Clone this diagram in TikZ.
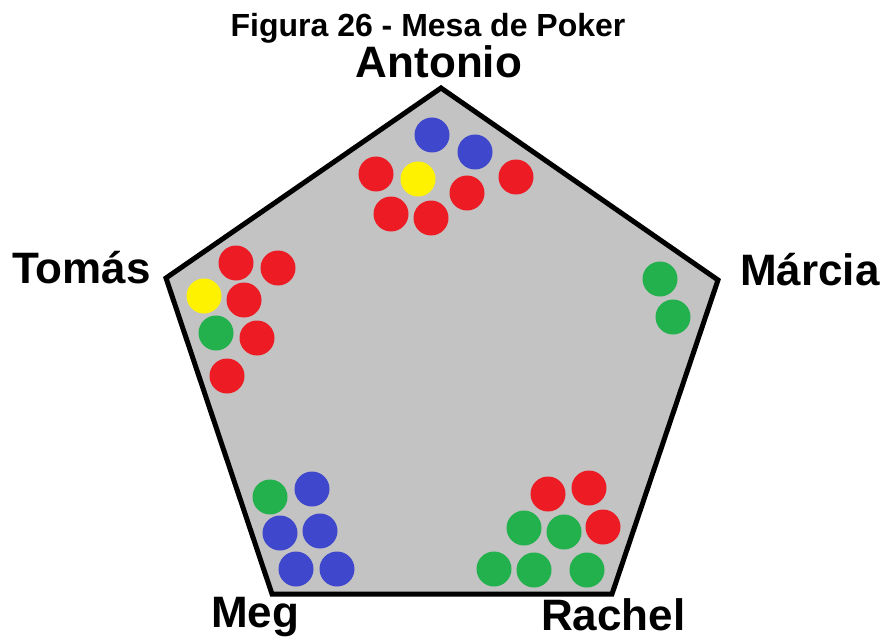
\documentclass[tikz,border=0pt]{standalone}
\usepackage{fontspec}
\setmainfont{Liberation Sans}
\definecolor{cred}{HTML}{ED1C24}
\definecolor{cblue}{HTML}{3F48CC}
\definecolor{cyellow}{HTML}{FFF200}
\definecolor{cgreen}{HTML}{22B14C}
\definecolor{table}{HTML}{C3C3C3}
\tikzset{
  chip/.style={circle, fill=#1, draw=none, minimum size=35pt, inner sep=0pt},
  player/.style={anchor=base, inner sep=0pt, font=\fontsize{44}{48}\selectfont\bfseries},
}
\begin{document}
\begin{tikzpicture}[x=1pt,y=-1pt]
\useasboundingbox (0,0) rectangle (885,639);
% table
\coordinate (vT) at (441,88);
\coordinate (vR) at (718,280);
\coordinate (vBR) at (612,594);
\coordinate (vBL) at (272,594);
\coordinate (vL) at (166,278);
\draw[line width=5pt, line join=miter, fill=table] (vT) -- (vR) -- (vBR) -- (vBL) -- (vL) -- cycle;
% title and names
\node[anchor=base, inner sep=0pt, font=\fontsize{32}{36}\selectfont\bfseries] (title) at (428,37) {Figura 26 - Mesa de Poker};
\node[player] (antonio) at (439,78) {Antonio};
\node[player, anchor=base west] (tomas) at (12,283) {Tomás};
\node[player, anchor=base west] (marcia) at (740,285) {Márcia};
\node[player, anchor=base west] (meg) at (211,627) {Meg};
\node[player, anchor=base west] (rachel) at (541,630) {Rachel};
% Antonio chips
\node[chip=cblue] (a1) at (432,135) {};
\node[chip=cblue] (a2) at (475,152) {};
\node[chip=cred] (a3) at (376,174) {};
\node[chip=cyellow] (a4) at (418,179) {};
\node[chip=cred] (a5) at (467,193) {};
\node[chip=cred] (a6) at (516,177) {};
\node[chip=cred] (a7) at (391,214) {};
\node[chip=cred] (a8) at (431,218) {};
% Tomas chips
\node[chip=cred] (t1) at (236,263) {};
\node[chip=cred] (t2) at (278,268) {};
\node[chip=cyellow] (t3) at (204,296) {};
\node[chip=cred] (t4) at (244,300) {};
\node[chip=cgreen] (t5) at (216,333) {};
\node[chip=cred] (t6) at (257,338) {};
\node[chip=cred] (t7) at (227,376) {};
% Marcia chips
\node[chip=cgreen] (m1) at (660,279) {};
\node[chip=cgreen] (m2) at (673,317) {};
% Meg chips
\node[chip=cgreen] (g1) at (270,497) {};
\node[chip=cblue] (g2) at (312,489) {};
\node[chip=cblue] (g3) at (280,533) {};
\node[chip=cblue] (g4) at (320,531) {};
\node[chip=cblue] (g5) at (296,569) {};
\node[chip=cblue] (g6) at (337,569) {};
% Rachel chips
\node[chip=cred] (r1) at (548,494) {};
\node[chip=cred] (r2) at (589,488) {};
\node[chip=cgreen] (r3) at (524,528) {};
\node[chip=cgreen] (r4) at (564,532) {};
\node[chip=cred] (r5) at (603,527) {};
\node[chip=cgreen] (r6) at (494,569) {};
\node[chip=cgreen] (r7) at (534,570) {};
\node[chip=cgreen] (r8) at (587,570) {};
\end{tikzpicture}
\end{document}
